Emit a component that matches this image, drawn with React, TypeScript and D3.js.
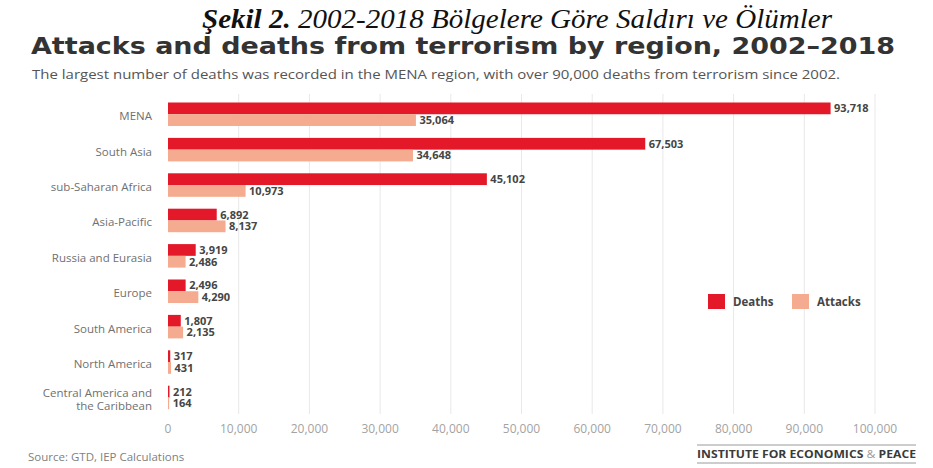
import React from "react";
import { scaleBand, scaleLinear, format } from "d3";

const regions = [
  "MENA",
  "South Asia",
  "sub-Saharan Africa",
  "Asia-Pacific",
  "Russia and Eurasia",
  "Europe",
  "South America",
  "North America",
  "Central America and\nthe Caribbean"
];
const deaths = [93718, 67503, 45102, 6892, 3919, 2496, 1807, 317, 212];
const attacks = [35064, 34648, 10973, 8137, 2486, 4290, 2135, 431, 164];
const series = ["Deaths", "Attacks"];
const seriesColors = ["#e3192a", "#f4ab90"];
const xTicks = [0, 10000, 20000, 30000, 40000, 50000, 60000, 70000, 80000, 90000, 100000];

const W = 933;
const H = 468;
const fmt = format(",");

export default function App() {
  const x = scaleLinear().domain([0, 100000]).range([168, 875]);
  const y = scaleBand<string>()
    .domain(regions)
    .range([90.6, 421.1])
    .paddingInner(0.336)
    .paddingOuter(0.336);
  const inner = scaleBand<string>().domain(series).range([0, y.bandwidth()]);
  const values = [deaths, attacks];

  const sans = "'Open Sans', 'DejaVu Sans', sans-serif";

  return (
    <div style={{ position: "absolute", left: 0, top: 0 }}>
      <svg width={W} height={H} style={{ display: "block", background: "#fff" }}>
        {/* caption */}
        <text
          x={202}
          y={28}
          fontFamily="'Liberation Serif', 'Times New Roman', serif"
          fontStyle="italic"
          fontSize={26.5}
          fill="#111"
          textLength={630}
          lengthAdjust="spacingAndGlyphs"
        >
          <tspan fontWeight="bold">Şekil 2.</tspan>
          <tspan> 2002-2018 Bölgelere Göre Saldırı ve Ölümler</tspan>
        </text>

        {/* title + subtitle */}
        <text
          x={31}
          y={54}
          fontFamily="'DejaVu Sans', sans-serif"
          fontWeight="bold"
          fontSize={22.5}
          fill="#333"
          textLength={864}
          lengthAdjust="spacingAndGlyphs"
        >
          Attacks and deaths from terrorism by region, 2002–2018
        </text>
        <text
          x={32}
          y={79}
          fontFamily={sans}
          fontSize={12.5}
          fill="#555"
          textLength={808}
          lengthAdjust="spacingAndGlyphs"
        >
          The largest number of deaths was recorded in the MENA region, with over 90,000 deaths from terrorism since 2002.
        </text>

        {/* grid lines */}
        {xTicks.slice(1).map((t) => (
          <line
            key={t}
            x1={x(t)}
            x2={x(t)}
            y1={94}
            y2={414}
            stroke="#e8e8e8"
            strokeWidth={1}
          />
        ))}

        {/* x tick labels */}
        {xTicks.map((t) => (
          <text
            key={t}
            x={x(t)}
            y={429}
            dy="0.35em"
            textAnchor="middle"
            fontFamily={sans}
            fontSize={12}
            fill="#a3a3a3"
          >
            {fmt(t)}
          </text>
        ))}

        {/* category labels */}
        {regions.map((r) => {
          const lines = r.split("\n");
          const cy = y(r)! + y.bandwidth() / 2 + 2;
          return (
            <text
              key={r}
              x={152}
              textAnchor="end"
              fontFamily={sans}
              fontSize={11.5}
              fill="#707070"
            >
              {lines.map((l, i) => (
                <tspan key={i} x={152} y={cy + (i - (lines.length - 1) / 2) * 13} dy="0.35em">
                  {l}
                </tspan>
              ))}
            </text>
          );
        })}

        {/* bars + value labels */}
        {regions.map((r, i) => (
          <g key={r} transform={`translate(0,${y(r)})`}>
            {series.map((s, j) => {
              const v = values[j][i];
              const by = inner(s)!;
              return (
                <g key={s}>
                  <rect
                    x={x(0)}
                    y={by}
                    width={x(v) - x(0)}
                    height={inner.bandwidth()}
                    fill={seriesColors[j]}
                  />
                  <text
                    x={x(v) + 3.5}
                    y={by + inner.bandwidth() / 2}
                    dy="0.36em"
                    fontFamily={sans}
                    fontWeight="bold"
                    fontSize={11}
                    fill="#454545"
                  >
                    {fmt(v)}
                  </text>
                </g>
              );
            })}
          </g>
        ))}

        {/* legend */}
        {series.map((s, j) => {
          const lx = [708, 792][j];
          return (
            <g key={s}>
              <rect x={lx} y={294} width={17} height={15} fill={seriesColors[j]} />
              <text
                x={lx + 25}
                y={302}
                dy="0.35em"
                fontFamily={sans}
                fontWeight="bold"
                fontSize={11.5}
                fill="#454545"
              >
                {s}
              </text>
            </g>
          );
        })}

        {/* source */}
        <text x={28} y={457} dy="0.35em" fontFamily={sans} fontSize={11.5} fill="#808080">
          Source: GTD, IEP Calculations
        </text>

        {/* IEP mark */}
        <line x1={697} x2={916} y1={445} y2={445} stroke="#9a9a9a" strokeWidth={1} />
        <line x1={697} x2={916} y1={463} y2={463} stroke="#9a9a9a" strokeWidth={1} />
        <text
          x={697}
          y={454}
          dy="0.35em"
          fontFamily={sans}
          fontWeight="bold"
          fontSize={10}
          fill="#3a3a3a"
          textLength={219}
          lengthAdjust="spacingAndGlyphs"
        >
          INSTITUTE FOR ECONOMICS <tspan fontWeight="normal" fill="#999">&amp;</tspan> PEACE
        </text>
      </svg>
    </div>
  );
}
